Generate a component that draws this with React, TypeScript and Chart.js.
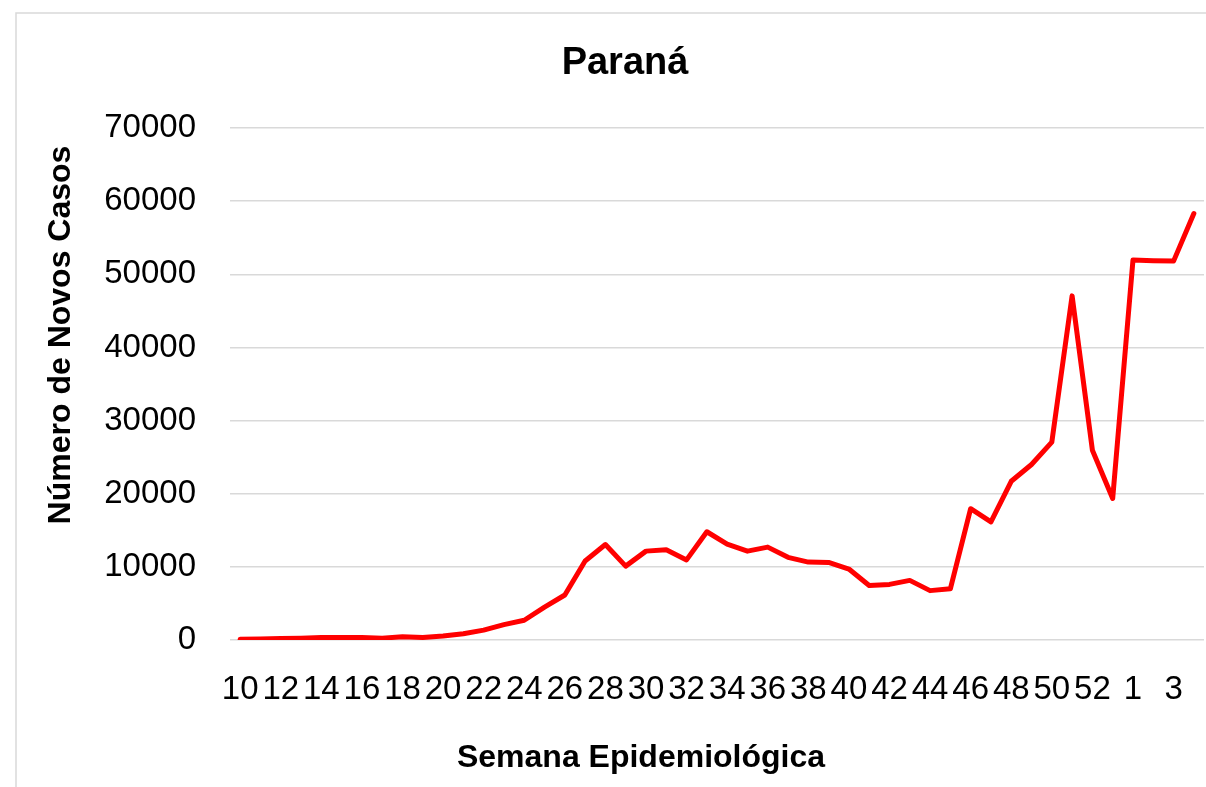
import React, { useEffect, useRef } from "react";
import { Chart, registerables } from "chart.js";

Chart.register(...registerables);

const weeks: string[] = [
  "10", "11", "12", "13", "14", "15", "16", "17", "18", "19",
  "20", "21", "22", "23", "24", "25", "26", "27", "28", "29",
  "30", "31", "32", "33", "34", "35", "36", "37", "38", "39",
  "40", "41", "42", "43", "44", "45", "46", "47", "48", "49",
  "50", "51", "52", "53", "1", "2", "3", "4",
];

const newCases: number[] = [
  100, 150, 200, 250, 350, 350, 350, 250, 450, 350,
  550, 850, 1350, 2100, 2700, 4500, 6150, 10800, 13050, 10100,
  12150, 12350, 10950, 14800, 13100, 12150, 12700, 11300, 10650, 10600,
  9700, 7450, 7600, 8150, 6750, 7000, 17950, 16150, 21700, 24000,
  27050, 47050, 25950, 19350, 51950, 51850, 51800, 58300,
];

const chartTitle = "Paraná";
const xTitle = "Semana Epidemiológica";
const yTitle = "Número de Novos Casos";

const FONT = "'Liberation Sans', Arial, sans-serif";

const decorPlugin = {
  id: "decor",
  beforeDraw(chart: any) {
    const ctx = chart.ctx;
    ctx.save();
    ctx.strokeStyle = "#d9d9d9";
    ctx.lineWidth = 1.5;
    ctx.beginPath();
    ctx.moveTo(16, 787);
    ctx.lineTo(16, 13);
    ctx.lineTo(1206, 13);
    ctx.stroke();
    ctx.restore();
  },
  afterDraw(chart: any) {
    const ctx = chart.ctx;
    ctx.save();
    ctx.fillStyle = "#000000";
    ctx.textAlign = "center";
    ctx.textBaseline = "alphabetic";
    ctx.font = `bold 38px ${FONT}`;
    ctx.fillText(chartTitle, 625, 74);
    ctx.font = `bold 32px ${FONT}`;
    ctx.fillText(xTitle, 641, 767);
    ctx.translate(70, 335);
    ctx.rotate(-Math.PI / 2);
    ctx.fillText(yTitle, 0, 0);
    ctx.restore();
  },
};

export default function App() {
  const canvasRef = useRef<HTMLCanvasElement | null>(null);

  useEffect(() => {
    const canvas = canvasRef.current;
    if (!canvas) return;
    const chart = new Chart(canvas, {
      type: "line",
      data: {
        labels: weeks,
        datasets: [
          {
            label: chartTitle,
            data: newCases,
            borderColor: "#ff0000",
            backgroundColor: "#ff0000",
            borderWidth: 5,
            pointRadius: 0,
            pointHoverRadius: 0,
            tension: 0,
            borderJoinStyle: "round",
            borderCapStyle: "round",
            fill: false,
          },
        ],
      },
      options: {
        animation: false,
        responsive: false,
        maintainAspectRatio: false,
        devicePixelRatio: 1,
        layout: { padding: { left: 0, right: 2, top: 128, bottom: 0 } },
        plugins: {
          legend: { display: false },
          title: { display: false },
          tooltip: { enabled: false },
        },
        scales: {
          x: {
            type: "category",
            offset: true,
            grid: { display: false, drawTicks: false },
            border: { display: false },
            ticks: {
              autoSkip: false,
              maxRotation: 0,
              minRotation: 0,
              padding: 30,
              color: "#000000",
              font: { family: FONT, size: 33 },
              callback: function (_v: any, i: number) {
                return i % 2 === 0 ? weeks[i] : "";
              },
            },
            afterFit(scale: any) {
              scale.height = 147;
              scale.paddingLeft = 0;
              scale.paddingRight = 0;
            },
          },
          y: {
            min: 0,
            max: 70000,
            grid: { color: "#d9d9d9", lineWidth: 1.4, drawTicks: false },
            border: { display: false },
            ticks: {
              stepSize: 10000,
              padding: 34,
              color: "#000000",
              font: { family: FONT, size: 33 },
              callback: function (v: any) {
                return String(v);
              },
            },
            afterFit(scale: any) {
              scale.width = 230;
              scale.paddingTop = 0;
              scale.paddingBottom = 0;
            },
          },
        },
      },
      plugins: [decorPlugin],
    });
    return () => chart.destroy();
  }, []);

  return (
    <div
      style={{
        position: "absolute",
        left: 0,
        top: 0,
        width: 1206,
        height: 787,
        background: "#ffffff",
      }}
    >
      <canvas ref={canvasRef} width={1206} height={787} style={{ display: "block" }} />
    </div>
  );
}
